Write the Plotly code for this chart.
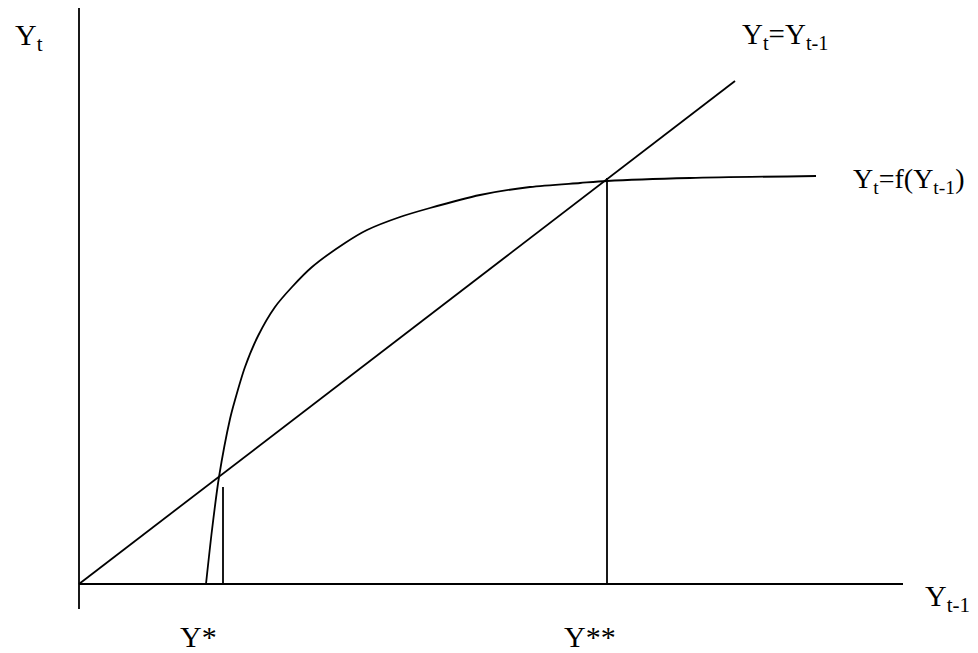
import plotly.graph_objects as go

# values (units: roughly pixels from the origin)
curve_x = [127, 133, 140, 151, 156, 166, 179, 196, 213, 233, 266, 288, 321, 351, 401, 451, 501, 528, 611, 737]
curve_y = [0, 54, 107, 165, 184, 217, 248, 277, 297, 317, 341, 354, 367, 376, 389, 397, 401, 403, 406, 408]

diag_x = [0, 656]
diag_y = [0, 503]

y_axis_x = [0, 0]
y_axis_y = [-25, 576]
x_axis_x = [0, 824]
x_axis_y = [0, 0]

ystar_x = [144, 144]
ystar_y = [0, 97]
ystar2_x = [528, 528]
ystar2_y = [0, 406]

LINE = dict(color="black", width=1.8)
FONT = dict(family="Liberation Serif, Times New Roman, serif", size=30, color="black")

fig = go.Figure()
for xs, ys in [(y_axis_x, y_axis_y), (x_axis_x, x_axis_y), (diag_x, diag_y),
               (curve_x, curve_y), (ystar_x, ystar_y), (ystar2_x, ystar2_y)]:
    fig.add_trace(go.Scatter(x=xs, y=ys, mode="lines", line=LINE,
                             line_shape="spline" if xs is curve_x else "linear",
                             line_smoothing=0.8,
                             hoverinfo="skip", showlegend=False))

labels = [
    ("Y<sub>t</sub>", -66, 547, 30),
    ("Y<sub>t</sub>=Y<sub>t-1</sub>", 661, 548, 29),
    ("Y<sub>t</sub>=f(Y<sub>t-1</sub>)", 772, 404, 28),
    ("Y<sub>t-1</sub>", 844, -14, 30),
    ("Y*", 99, -52, 30),
    ("Y**", 483, -52, 30),
]
for text, x, y, size in labels:
    fig.add_annotation(text=text, x=x, y=y, xref="x", yref="y",
                       xanchor="left", yanchor="middle", showarrow=False,
                       font=dict(FONT, size=size))

# the page keeps an 8px body margin, so the figure starts at (8, 8)
fig.update_layout(
    width=970, height=645,
    margin=dict(l=0, r=0, t=0, b=0),
    paper_bgcolor="white", plot_bgcolor="white",
    xaxis=dict(range=[-71, 899], visible=False, fixedrange=True),
    yaxis=dict(range=[-69, 576], visible=False, fixedrange=True),
)

fig.write_html("out.html")
